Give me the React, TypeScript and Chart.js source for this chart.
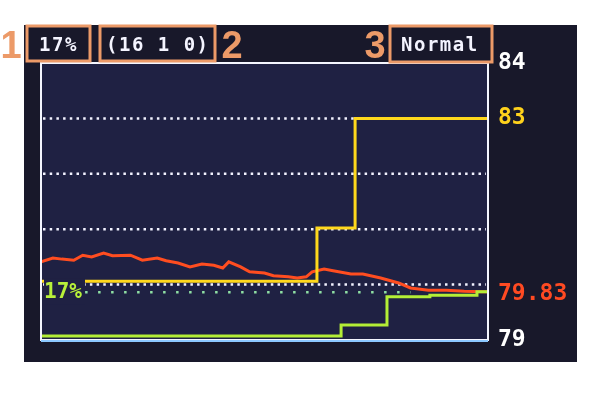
import React, { useEffect, useRef } from 'react';
import { Chart, registerables } from 'chart.js';

Chart.register(...registerables);

// time axis is in samples, 0..150 across the plot
const timeMax = 150;

const actualTime = [0, 4, 7, 11, 14, 17, 21, 24, 30, 34, 39, 42, 46, 50, 54, 58, 61, 63, 67, 70, 75, 78, 83, 86, 89, 91, 95, 98, 104, 108, 114, 120, 124, 130, 136, 142, 148, 150];
const actualTemp = [80.41, 80.48, 80.46, 80.44, 80.53, 80.5, 80.57, 80.52, 80.53, 80.44, 80.48, 80.43, 80.39, 80.32, 80.37, 80.35, 80.3, 80.41, 80.32, 80.23, 80.21, 80.16, 80.14, 80.12, 80.14, 80.23, 80.28, 80.25, 80.19, 80.19, 80.12, 80.03, 79.94, 79.9, 79.9, 79.88, 79.87, 79.87];

const setTime = [0, 92.6, 105.4, 150];
const setTemp = [80.06, 81.02, 83, 83];

const powerTime = [0, 100.7, 116.1, 130.5, 146.3, 150];
const powerLevel = [79.07, 79.27, 79.78, 79.81, 79.87, 79.87];

const targetLevel = 79.86;
const targetFrom = 14.8;
const targetTo = 124;
const targetLabel = '17%';

const gridValues = [80, 81, 82, 83];
const axisTicks = [79, 79.83, 83, 84];
const tickColors: Record<string, string> = { '79': '#ffffff', '79.83': '#ff4a22', '83': '#ffd21c', '84': '#ffffff' };

const headerTexts = ['17%', '(16 1 0)', 'Normal'];
const calloutNumbers = ['1', '2', '3'];

const toPoints = (xs: number[], ys: number[]) => xs.map((x, i) => ({ x, y: ys[i] }));

const screenPlugin = {
  id: 'screen',
  beforeDraw(chart: any) {
    const { ctx, chartArea: a, scales } = chart;
    ctx.save();
    ctx.fillStyle = '#ffffff';
    ctx.fillRect(0, 0, chart.width, chart.height);
    ctx.fillStyle = '#18182a';
    ctx.fillRect(24, 25, 553, 337);
    ctx.fillStyle = '#1f2143';
    ctx.fillRect(a.left, a.top, a.right - a.left, a.bottom - a.top);

    // dotted reference lines
    ctx.strokeStyle = '#f2f2ff';
    ctx.lineWidth = 2.5;
    ctx.setLineDash([2.5, 4.2]);
    gridValues.forEach(v => {
      const y = scales.y.getPixelForValue(v);
      ctx.beginPath();
      ctx.moveTo(a.left + 2, y);
      ctx.lineTo(a.right - 2, y);
      ctx.stroke();
    });
    // target line
    ctx.strokeStyle = '#8fe0a4';
    ctx.setLineDash([2.5, 10.5]);
    const ty = scales.y.getPixelForValue(targetLevel);
    ctx.beginPath();
    ctx.moveTo(scales.x.getPixelForValue(targetFrom), ty);
    ctx.lineTo(scales.x.getPixelForValue(targetTo), ty);
    ctx.stroke();
    ctx.restore();
  },
  afterDatasetsDraw(chart: any) {
    const { ctx, chartArea: a, scales } = chart;
    ctx.save();
    // plot frame
    ctx.strokeStyle = '#f4f6ff';
    ctx.lineWidth = 2;
    ctx.strokeRect(a.left, a.top, a.right - a.left, a.bottom - a.top);
    ctx.strokeStyle = '#8cc8ff';
    ctx.beginPath();
    ctx.moveTo(a.left, a.bottom + 1);
    ctx.lineTo(a.right, a.bottom + 1);
    ctx.stroke();

    // target label
    const ty = scales.y.getPixelForValue(targetLevel);
    ctx.fillStyle = '#1f2143';
    ctx.fillRect(a.left + 3, ty - 14, 41, 26);
    ctx.fillStyle = '#b8f03a';
    ctx.font = 'bold 21px "DejaVu Sans Mono"';
    ctx.textBaseline = 'middle';
    ctx.textAlign = 'left';
    ctx.fillText(targetLabel, a.left + 3, ty);
    ctx.restore();
  },
  afterDraw(chart: any) {
    const { ctx } = chart;
    ctx.save();
    // header texts
    const textX = [39, 106, 401];
    ctx.fillStyle = '#f4f4ff';
    ctx.font = 'bold 19px "DejaVu Sans Mono"';
    (ctx as any).letterSpacing = '1.5px';
    ctx.textBaseline = 'middle';
    ctx.textAlign = 'left';
    headerTexts.forEach((t, i) => ctx.fillText(t, textX[i], 46));
    (ctx as any).letterSpacing = '0px';

    // callout boxes
    const boxes = [[27, 26, 63, 35], [100, 26, 115, 35], [390, 26, 102, 36]];
    ctx.strokeStyle = '#ec9a68';
    ctx.lineWidth = 3;
    boxes.forEach(([x, y, w, h]) => ctx.strokeRect(x, y, w, h));
    const numX = [11, 232, 375];
    ctx.fillStyle = '#ec9a68';
    ctx.font = 'bold 38px "Liberation Sans"';
    ctx.textAlign = 'center';
    ctx.textBaseline = 'alphabetic';
    calloutNumbers.forEach((n, i) => ctx.fillText(n, numX[i], 58));
    ctx.restore();
  },
};

export default function App() {
  const canvasRef = useRef<HTMLCanvasElement>(null);

  useEffect(() => {
    if (!canvasRef.current) return;
    const chart = new Chart(canvasRef.current, {
      type: 'line',
      data: {
        datasets: [
          {
            label: 'Power',
            data: toPoints(powerTime, powerLevel),
            borderColor: '#b4ee36',
            borderWidth: 3,
            pointRadius: 0,
            stepped: 'before',
          },
          {
            label: 'Set',
            data: toPoints(setTime, setTemp),
            borderColor: '#ffd81c',
            borderWidth: 3,
            pointRadius: 0,
            stepped: 'before',
          },
          {
            label: 'Actual',
            data: toPoints(actualTime, actualTemp),
            borderColor: '#ff4d20',
            borderWidth: 3,
            pointRadius: 0,
            tension: 0,
          },
        ],
      },
      options: {
        animation: false,
        responsive: true,
        maintainAspectRatio: false,
        layout: { padding: { left: 41, top: 63, right: 0, bottom: 70 } },
        plugins: { legend: { display: false }, tooltip: { enabled: false } },
        scales: {
          x: { type: 'linear', display: false, min: 0, max: timeMax },
          y: {
            position: 'right',
            min: 79,
            max: 84,
            grid: { display: false, drawTicks: false },
            border: { display: false },
            afterBuildTicks: (scale: any) => {
              scale.ticks = axisTicks.map(v => ({ value: v }));
            },
            afterFit: (scale: any) => {
              scale.width = 112;
            },
            ticks: {
              padding: 10,
              autoSkip: false,
              font: { family: 'DejaVu Sans Mono', size: 23, weight: 'bold' },
              color: (c: any) => tickColors[String(c.tick.value)] || '#fff',
              callback: (v: any) => String(v),
            },
          },
        },
      },
      plugins: [screenPlugin],
    });
    return () => chart.destroy();
  }, []);

  return (
    <div style={{ position: 'fixed', left: 0, top: 0, width: 600, height: 410, background: '#fff' }}>
      <canvas ref={canvasRef}></canvas>
    </div>
  );
}
